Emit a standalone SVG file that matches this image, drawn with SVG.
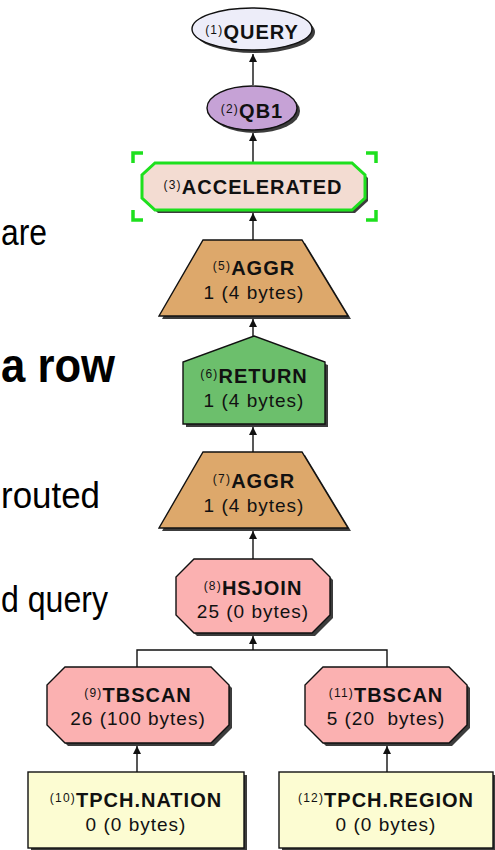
<svg xmlns="http://www.w3.org/2000/svg" width="495" height="850" viewBox="0 0 495 850">
  <style>
    .bg { fill: #ffffff; }
    .slide { font-family: "Liberation Sans", Arial, sans-serif; fill: #000; font-size: 37px; }
    .slide-b { font-family: "Liberation Sans", Arial, sans-serif; fill: #000; font-size: 48px; font-weight: bold; }
    .shadow { fill: #3c3c3c; stroke: none; }
    .shape { stroke: #111; stroke-width: 1.4; }
    .query { fill: #ededf9; }
    .qb { fill: #c6a2d6; }
    .accel { fill: #f3dcd2; stroke: #1ee01e; stroke-width: 3; }
    .aggr { fill: #dda86b; }
    .ret { fill: #6cbf6c; }
    .join { fill: #fbb1b1; }
    .table { fill: #fcfcd2; }
    .sel { fill: none; stroke: #1ee01e; stroke-width: 3.5; }
    .lbl { font-family: "Liberation Sans", Arial, sans-serif; fill: #111; text-anchor: middle; }
    .num { font-size: 12px; letter-spacing: 1.2px; }
    .name { font-size: 20px; font-weight: bold; letter-spacing: 1px; }
    .rows { font-size: 19px; letter-spacing: 1px; }
    .edge { fill: none; stroke: #111; stroke-width: 1.4; }
  </style>
  <defs>
    <marker id="arrow" markerUnits="userSpaceOnUse" markerWidth="9" markerHeight="9" refX="8" refY="4" orient="auto">
      <path d="M0,0 L8,4 L0,8 Z" fill="#111"/>
    </marker>
  </defs>

  <rect class="bg" x="0" y="0" width="495" height="850"/>

  <!-- slide text along the left edge -->
  <g id="slide-text">
    <text class="slide" x="1" y="245" textLength="46" lengthAdjust="spacingAndGlyphs">are</text>
    <text class="slide-b" x="1" y="382" textLength="114" lengthAdjust="spacingAndGlyphs">a row</text>
    <text class="slide" x="1" y="508" textLength="99" lengthAdjust="spacingAndGlyphs">routed</text>
    <text class="slide" x="1" y="612" textLength="107" lengthAdjust="spacingAndGlyphs">d query</text>
  </g>

  <!-- connectors: child to parent, arrow at the parent -->
  <g id="connectors">
    <path class="edge" d="M253,85 V54" marker-end="url(#arrow)"/>
    <path class="edge" d="M253,163 V133" marker-end="url(#arrow)"/>
    <path class="edge" d="M253,240 V213" marker-end="url(#arrow)"/>
    <path class="edge" d="M253,336 V319" marker-end="url(#arrow)"/>
    <path class="edge" d="M253,452 V427" marker-end="url(#arrow)"/>
    <path class="edge" d="M253,559 V531" marker-end="url(#arrow)"/>
    <path class="edge" d="M137,667 V650 H387 V667"/>
    <path class="edge" d="M253,650 V636" marker-end="url(#arrow)"/>
    <path class="edge" d="M137,772 V746" marker-end="url(#arrow)"/>
    <path class="edge" d="M387,772 V746" marker-end="url(#arrow)"/>
  </g>

  <g id="n1-query">
    <ellipse class="shadow" cx="255" cy="32" rx="60" ry="21"/>
    <ellipse class="shape query" cx="252" cy="29" rx="60" ry="21"/>
    <text class="lbl" x="252" y="39"><tspan class="num" dy="-5">(1)</tspan><tspan class="name" dy="5">QUERY</tspan></text>
  </g>

  <g id="n2-qb1">
    <ellipse class="shadow" cx="255" cy="111" rx="45" ry="22"/>
    <ellipse class="shape qb" cx="252" cy="108" rx="45" ry="22"/>
    <text class="lbl" x="252" y="118"><tspan class="num" dy="-5">(2)</tspan><tspan class="name" dy="5">QB1</tspan></text>
  </g>

  <g id="n3-accelerated">
    <polygon class="shadow" points="158,166 355,166 368,178 368,201 355,213 158,213 145,201 145,178"/>
    <polygon class="accel" points="155,163 352,163 365,175 365,198 352,210 155,210 142,198 142,175"/>
    <path class="sel" d="M133,163 V153 H143 M366,153 H376 V163 M133,210 V220 H143 M366,220 H376 V210"/>
    <text class="lbl" x="253" y="194"><tspan class="num" dy="-5">(3)</tspan><tspan class="name" dy="5">ACCELERATED</tspan></text>
  </g>

  <g id="n5-aggr">
    <polygon class="shadow" points="206,243 305,243 351,319 162,319"/>
    <polygon class="shape aggr" points="203,240 302,240 348,316 159,316"/>
    <text class="lbl" x="254" y="275"><tspan class="num" dy="-5">(5)</tspan><tspan class="name" dy="5">AGGR</tspan></text>
    <text class="lbl rows" x="254" y="299">1 (4 bytes)</text>
  </g>

  <g id="n6-return">
    <polygon class="shadow" points="257,339 328,365 328,427 186,427 186,365"/>
    <polygon class="shape ret" points="254,336 325,362 325,424 183,424 183,362"/>
    <text class="lbl" x="254" y="383"><tspan class="num" dy="-5">(6)</tspan><tspan class="name" dy="5">RETURN</tspan></text>
    <text class="lbl rows" x="254" y="407">1 (4 bytes)</text>
  </g>

  <g id="n7-aggr">
    <polygon class="shadow" points="206,455 305,455 351,531 162,531"/>
    <polygon class="shape aggr" points="203,452 302,452 348,528 159,528"/>
    <text class="lbl" x="254" y="488"><tspan class="num" dy="-5">(7)</tspan><tspan class="name" dy="5">AGGR</tspan></text>
    <text class="lbl rows" x="254" y="512">1 (4 bytes)</text>
  </g>

  <g id="n8-hsjoin">
    <polygon class="shadow" points="197,562 315,562 333,580 333,618 315,636 197,636 179,618 179,580"/>
    <polygon class="shape join" points="194,559 312,559 330,577 330,615 312,633 194,633 176,615 176,577"/>
    <text class="lbl" x="253" y="595"><tspan class="num" dy="-5">(8)</tspan><tspan class="name" dy="5">HSJOIN</tspan></text>
    <text class="lbl rows" x="253" y="618">25 (0 bytes)</text>
  </g>

  <g id="n9-tbscan">
    <polygon class="shadow" points="68,670 214,670 232,688 232,728 214,746 68,746 50,728 50,688"/>
    <polygon class="shape join" points="65,667 211,667 229,685 229,725 211,743 65,743 47,725 47,685"/>
    <text class="lbl" x="138" y="702"><tspan class="num" dy="-5">(9)</tspan><tspan class="name" dy="5">TBSCAN</tspan></text>
    <text class="lbl rows" x="138" y="725">26 (100 bytes)</text>
  </g>

  <g id="n11-tbscan">
    <polygon class="shadow" points="326,670 452,670 470,688 470,728 452,746 326,746 308,728 308,688"/>
    <polygon class="shape join" points="323,667 449,667 467,685 467,725 449,743 323,743 305,725 305,685"/>
    <text class="lbl" x="386" y="702"><tspan class="num" dy="-5">(11)</tspan><tspan class="name" dy="5">TBSCAN</tspan></text>
    <text class="lbl rows" x="386" y="725" xml:space="preserve">5 (20  bytes)</text>
  </g>

  <g id="n10-nation">
    <rect class="shadow" x="31" y="775" width="216" height="76"/>
    <rect class="shape table" x="28" y="772" width="216" height="76"/>
    <text class="lbl" x="136" y="807"><tspan class="num" dy="-5">(10)</tspan><tspan class="name" dy="5">TPCH.NATION</tspan></text>
    <text class="lbl rows" x="136" y="831">0 (0 bytes)</text>
  </g>

  <g id="n12-region">
    <rect class="shadow" x="282" y="775" width="214" height="76"/>
    <rect class="shape table" x="279" y="772" width="214" height="76"/>
    <text class="lbl" x="386" y="807"><tspan class="num" dy="-5">(12)</tspan><tspan class="name" dy="5">TPCH.REGION</tspan></text>
    <text class="lbl rows" x="386" y="831">0 (0 bytes)</text>
  </g>
</svg>
